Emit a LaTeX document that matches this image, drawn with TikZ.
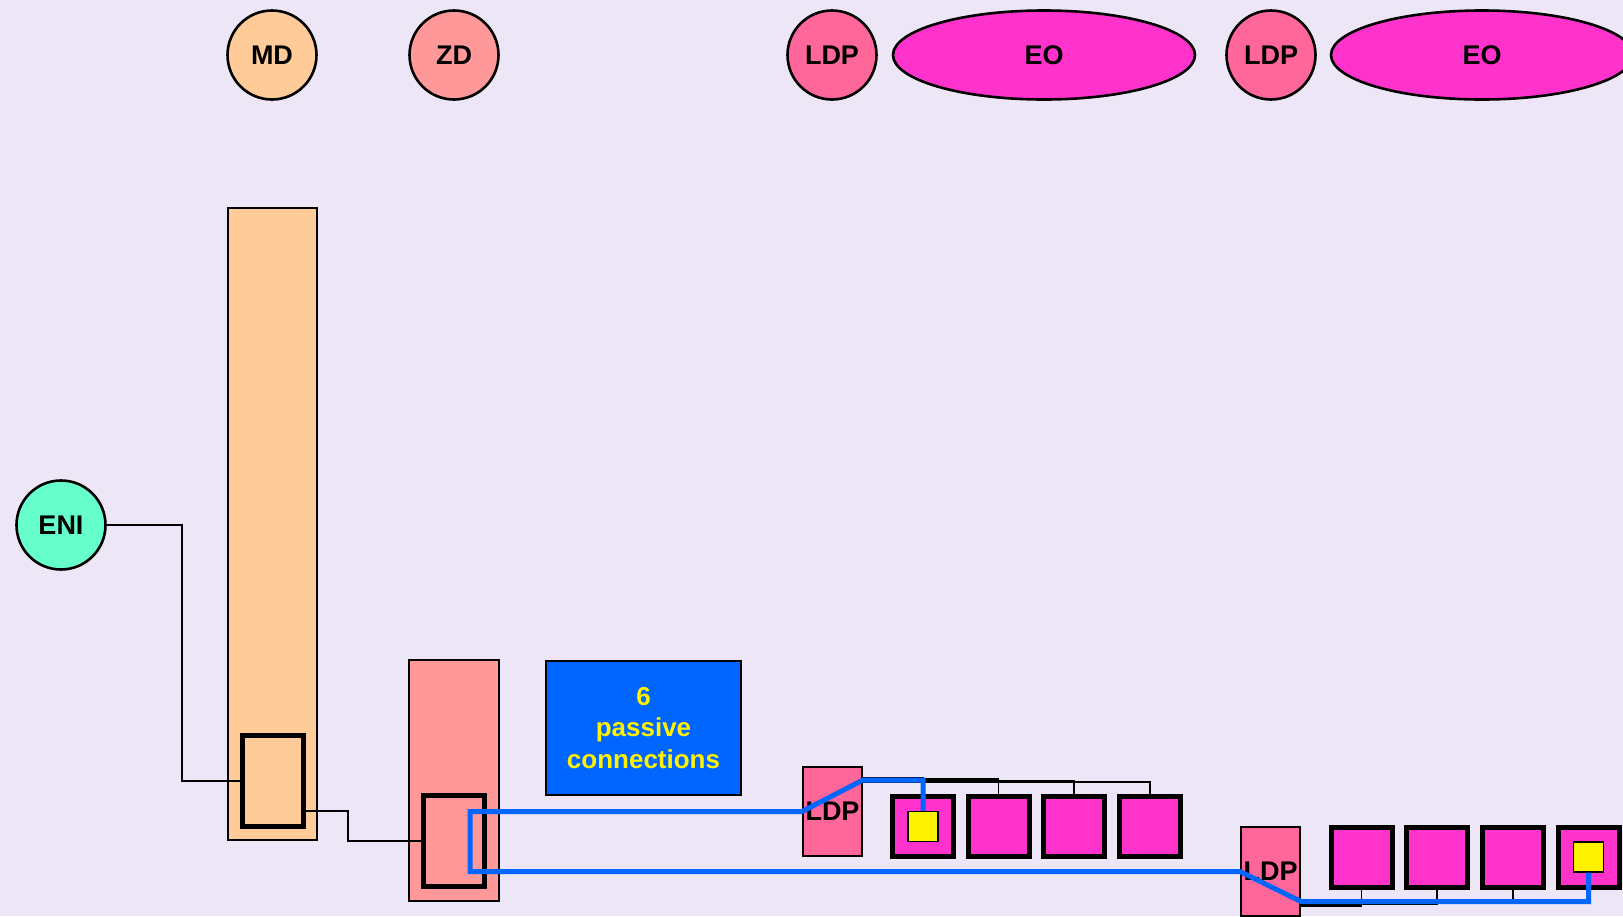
\documentclass[tikz,border=0pt]{standalone}
\usepackage{fontspec}
\setsansfont{Liberation Sans}
\usetikzlibrary{shapes.geometric}
\definecolor{bgviolet}{HTML}{EDE6F7}
\definecolor{mdpeach}{HTML}{FFCC99}
\definecolor{zdsalmon}{HTML}{FF9999}
\definecolor{ldppink}{HTML}{FF6699}
\definecolor{eomagenta}{HTML}{FF33CC}
\definecolor{enigreen}{HTML}{66FFCC}
\definecolor{routeblue}{HTML}{0066FF}

\begin{document}
\begin{tikzpicture}[x=0.5pt, y=-0.5pt,
    lbl/.style={font=\sffamily\bfseries\fontsize{13.5}{16}\selectfont},
    rolenode/.style={circle, draw, line width=1.3pt, minimum size=44.5pt, inner sep=0pt, lbl},
    eonode/.style={ellipse, draw, line width=1.3pt, fill=eomagenta, minimum width=151pt, minimum height=44.5pt, lbl},
    bar/.style={rectangle, draw, line width=1pt, inner sep=0pt},
    port/.style={rectangle, draw, line width=2.5pt, inner sep=0pt, minimum width=30.5pt, minimum height=45.5pt},
    slot/.style={rectangle, draw, line width=2.5pt, fill=eomagenta, minimum width=30.5pt, minimum height=30pt, inner sep=0pt},
    pin/.style={rectangle, draw, line width=0.6pt, fill=yellow, minimum size=15pt, inner sep=0pt},
    wire/.style={line width=0.7pt},
    route/.style={line width=2.5pt, routeblue, line join=miter}]
  % fond
  \fill[bgviolet] (0,0) rectangle (1623,916);
  \useasboundingbox (0,0) rectangle (1623,916);
  % roles en haut
  \node[rolenode, fill=mdpeach] (md) at (272,55) {MD};
  \node[rolenode, fill=zdsalmon] (zd) at (454,55) {ZD};
  \node[rolenode, fill=ldppink] (ldpA) at (832,55) {LDP};
  \node[eonode] (eoA) at (1044,55) {EO};
  \node[rolenode, fill=ldppink] (ldpB) at (1271,55) {LDP};
  \node[eonode] (eoB) at (1482,55) {EO};
  \node[rolenode, fill=enigreen] (eni) at (61,525) {ENI};
  % barres MD et ZD
  \node[bar, fill=mdpeach, minimum width=44.5pt, minimum height=316pt] (mdBar) at (272.5,524) {};
  \node[port, fill=mdpeach] (mdPort) at (273,781) {};
  \node[bar, fill=zdsalmon, minimum width=45pt, minimum height=120.5pt] (zdBar) at (454,780.5) {};
  \node[port, fill=zdsalmon] (zdPort) at (454,841) {};
  \node[bar, fill=routeblue, minimum width=97.5pt, minimum height=67pt, align=center, text=yellow,
        font=\sffamily\bfseries\fontsize{13}{15.6}\selectfont] (note) at (643.5,728) {6\\passive\\connections};
  % liens ENI -> MD -> ZD
  \coordinate (bendA) at (182,525);
  \coordinate (bendB) at (348,811);
  \draw[wire] (eni.east) -- (bendA) |- (mdPort.west);
  \draw[wire] ([yshift=-15pt]mdPort.east) -- (bendB) |- (zdPort.west);
  % LDP et EO en bas
  \node[bar, fill=ldppink, minimum width=29.5pt, minimum height=44.5pt, lbl] (ldpC) at (832.5,811.5) {LDP};
  \node[bar, fill=ldppink, minimum width=29.5pt, minimum height=44.5pt, lbl] (ldpD) at (1270.5,871.5) {LDP};
  \foreach \i/\x/\s in {1/923/17pt, 2/998.5/16.25pt, 3/1074/15.5pt, 4/1150/14.75pt} {
    \node[slot] (slotA\i) at (\x,826.5) {};
    \draw[wire] ([yshift=\s]ldpC.east) -| (slotA\i.north);
  }
  \foreach \i/\x/\s in {1/1361.5/-17.25pt, 2/1437/-16.5pt, 3/1513/-15.75pt, 4/1588.5/-15pt} {
    \node[slot] (slotB\i) at (\x,857) {};
    \draw[wire] ([yshift=\s]ldpD.east) -| (slotB\i.south);
  }
  \node[pin] (pinA) at (slotA1) {};
  \node[pin] (pinB) at (slotB4) {};
  % trajet bleu
  \coordinate (bendC) at (470,811.5);
  \draw[route] (pinA.north) |- ([yshift=15.75pt]ldpC.east) -- (ldpC.west) -- (bendC)
    |- (ldpD.west) -- ([yshift=-15pt]ldpD.east) -| (pinB.south);
\end{tikzpicture}
\end{document}
